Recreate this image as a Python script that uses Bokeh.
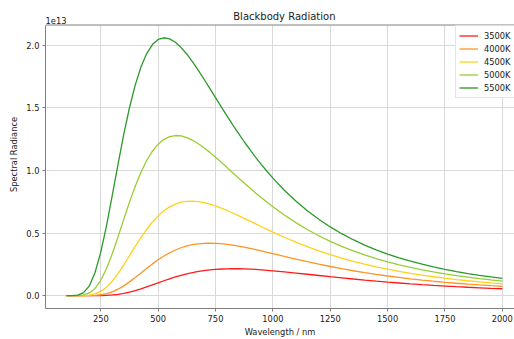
from bokeh.plotting import figure
from bokeh.models import Range1d, FixedTicker, PrintfTickFormatter, Label, Span, BoxAnnotation
from bokeh.embed import file_html
from bokeh.resources import INLINE

# Wavelength in nm
wavelength = [100, 125, 150, 175, 200, 225, 250, 275, 300, 325, 350, 375, 400, 425, 450,
              475, 500, 525, 550, 575, 600, 625, 650, 675, 700, 725, 750, 775, 800, 825,
              850, 875, 900, 925, 950, 975, 1000, 1050, 1100, 1150, 1200, 1250, 1300,
              1350, 1400, 1450, 1500, 1550, 1600, 1650, 1700, 1750, 1800, 1850, 1900,
              1950, 2000]

# Spectral radiance in units of 1e13
rad_3500 = [0.0, 0.0, 0.0, 0.0, 0.0, 0.0002, 0.0009, 0.0024, 0.0055, 0.0106, 0.0180, 0.0279,
            0.0400, 0.0541, 0.0696, 0.0859, 0.1025, 0.1188, 0.1344, 0.1490, 0.1622, 0.1741,
            0.1843, 0.1930, 0.2001, 0.2057, 0.2099, 0.2128, 0.2145, 0.2151, 0.2148, 0.2136,
            0.2116, 0.2091, 0.2060, 0.2025, 0.1985, 0.1899, 0.1805, 0.1707, 0.1609, 0.1512,
            0.1418, 0.1327, 0.1241, 0.1159, 0.1082, 0.1010, 0.0942, 0.0879, 0.0820, 0.0766,
            0.0715, 0.0668, 0.0625, 0.0584, 0.0547]
rad_4000 = [0.0, 0.0, 0.0, 0.0001, 0.0006, 0.0024, 0.0069, 0.0158, 0.0304, 0.0513, 0.0781,
            0.1097, 0.1447, 0.1813, 0.2181, 0.2535, 0.2865, 0.3163, 0.3424, 0.3645, 0.3826,
            0.3967, 0.4072, 0.4143, 0.4182, 0.4194, 0.4182, 0.4149, 0.4099, 0.4034, 0.3957,
            0.3871, 0.3777, 0.3676, 0.3572, 0.3465, 0.3356, 0.3138, 0.2922, 0.2713, 0.2515,
            0.2327, 0.2152, 0.1988, 0.1837, 0.1697, 0.1568, 0.1450, 0.1341, 0.1241, 0.1150,
            0.1066, 0.0989, 0.0918, 0.0853, 0.0793, 0.0738]
rad_4500 = [0.0, 0.0, 0.0001, 0.0008, 0.0042, 0.0139, 0.0340, 0.0676, 0.1153, 0.1754, 0.2445,
            0.3185, 0.3930, 0.4645, 0.5303, 0.5884, 0.6378, 0.6780, 0.7093, 0.7318, 0.7465,
            0.7541, 0.7556, 0.7518, 0.7436, 0.7317, 0.7168, 0.6996, 0.6806, 0.6602, 0.6389,
            0.6171, 0.5950, 0.5728, 0.5507, 0.5290, 0.5075, 0.4664, 0.4276, 0.3916, 0.3583,
            0.3278, 0.2998, 0.2744, 0.2513, 0.2303, 0.2112, 0.1939, 0.1781, 0.1639, 0.1509,
            0.1391, 0.1284, 0.1187, 0.1098, 0.1017, 0.0943]
rad_5000 = [0.0, 0.0, 0.0007, 0.0052, 0.0210, 0.0577, 0.1223, 0.2162, 0.3347, 0.4692, 0.6097,
            0.7472, 0.8744, 0.9863, 1.0802, 1.1549, 1.2108, 1.2490, 1.2715, 1.2797, 1.2763,
            1.2629, 1.2415, 1.2139, 1.1813, 1.1450, 1.1062, 1.0657, 1.0243, 0.9826, 0.9409,
            0.8998, 0.8595, 0.8203, 0.7823, 0.7456, 0.7102, 0.6438, 0.5832, 0.5283, 0.4786,
            0.4339, 0.3937, 0.3576, 0.3252, 0.2961, 0.2700, 0.2465, 0.2254, 0.2063, 0.1892,
            0.1737, 0.1597, 0.1471, 0.1356, 0.1252, 0.1158]
rad_5500 = [0.0, 0.0003, 0.0042, 0.0234, 0.0777, 0.1844, 0.3482, 0.5598, 0.8005, 1.0495, 1.2880,
            1.5017, 1.6826, 1.8270, 1.9344, 2.0065, 2.0477, 2.0612, 2.0523, 2.0249, 1.9828,
            1.9296, 1.8680, 1.8006, 1.7294, 1.6563, 1.5824, 1.5087, 1.4362, 1.3651, 1.2963,
            1.2299, 1.1663, 1.1053, 1.0472, 0.9919, 0.9393, 0.8424, 0.7558, 0.6786, 0.6101,
            0.5491, 0.4950, 0.4469, 0.4042, 0.3662, 0.3323, 0.3021, 0.2751, 0.2509, 0.2293,
            0.2098, 0.1923, 0.1766, 0.1624, 0.1495, 0.1379]

series_labels = ["3500K", "4000K", "4500K", "5000K", "5500K"]
series_colors = ["#ff1a1a", "#ff9422", "#ffd21a", "#9acd32", "#2a9a2a"]
x_ticks = [250, 500, 750, 1000, 1250, 1500, 1750, 2000]
y_ticks = [0.0, 0.5, 1.0, 1.5, 2.0]
title_text = "Blackbody Radiation"
offset_text = "1e13"

FONT = "DejaVu Sans"
SPINE = "#7f7f7f"
TXT = "#1a1a1a"
X0, X1 = 9, 2053            # visible x extent (window cuts the right side)
XC = 1050                   # centre of the axes box (5 .. 2095)
Y0, Y1 = -0.103, 2.163      # axes box
YTOP = 2.359                # frame extends up to the top edge for the title texts
Y_TITLE = 2.229             # baseline of the title
Y_OFFSET_TXT = 2.196        # baseline of the "1e13" multiplier

p = figure(width=514, height=339, output_backend="svg", toolbar_location=None,
           x_range=Range1d(X0, X1), y_range=Range1d(Y0, YTOP),
           min_border_left=45, min_border_right=0, min_border_top=0, min_border_bottom=29)
try:
    p.title_location = None
except Exception:
    p.title.text = ""

p.outline_line_color = None

for data, lab, col in zip([rad_3500, rad_4000, rad_4500, rad_5000, rad_5500],
                          series_labels, series_colors):
    p.line(wavelength, data, line_color=col, line_width=1.3, legend_label=lab)

# white band above the axes box hides grid lines there
p.add_layout(BoxAnnotation(bottom=Y1, fill_color="white", fill_alpha=1.0, line_color=None))
# top spine
p.add_layout(Span(location=Y1, dimension="width", line_color=SPINE, line_width=1))

p.xaxis.ticker = FixedTicker(ticks=x_ticks)
p.yaxis.ticker = FixedTicker(ticks=y_ticks)
p.yaxis.formatter = PrintfTickFormatter(format="%.1f")
p.yaxis.bounds = (Y0, Y1)
for ax in [p.xaxis[0], p.yaxis[0]]:
    ax.axis_line_color = SPINE
    ax.axis_line_width = 1
    ax.major_tick_line_color = SPINE
    ax.major_tick_out = 3
    ax.major_tick_in = 0
    ax.minor_tick_line_color = None
    ax.major_label_text_font = FONT
    ax.major_label_text_font_size = "8.3px"
    ax.major_label_text_color = TXT
    ax.major_label_standoff = 3
    ax.axis_label_text_font = FONT
    ax.axis_label_text_font_size = "8.3px"
    ax.axis_label_text_font_style = "normal"
    ax.axis_label_text_color = TXT

p.xaxis.axis_label = "Wavelength / nm"
p.xaxis.axis_label_standoff = 2
p.yaxis.axis_label = "Spectral Radiance"
p.yaxis.axis_label_standoff = 4

p.grid.grid_line_color = "#d9d9d9"
p.grid.grid_line_width = 1

p.add_layout(Label(x=XC, y=Y_TITLE, text=title_text, text_font=FONT,
                   text_font_size="10px", text_color=TXT,
                   text_baseline="alphabetic", text_align="center"))
p.add_layout(Label(x=X0, y=Y_OFFSET_TXT, text=offset_text, text_font=FONT,
                   text_font_size="8.3px", text_color=TXT,
                   text_baseline="alphabetic", text_align="left"))

lg = p.legend[0]
lg.location = (410, 210)
lg.margin = 0
lg.padding = 3
lg.spacing = 0
lg.glyph_width = 19
lg.glyph_height = 13
lg.label_height = 13
lg.label_standoff = 6
lg.label_text_font = FONT
lg.label_text_font_size = "8.3px"
lg.label_text_color = TXT
lg.border_line_color = "#cccccc"
lg.border_line_width = 1
lg.background_fill_alpha = 0.8

open("out.html", "w").write(file_html(p, INLINE))
